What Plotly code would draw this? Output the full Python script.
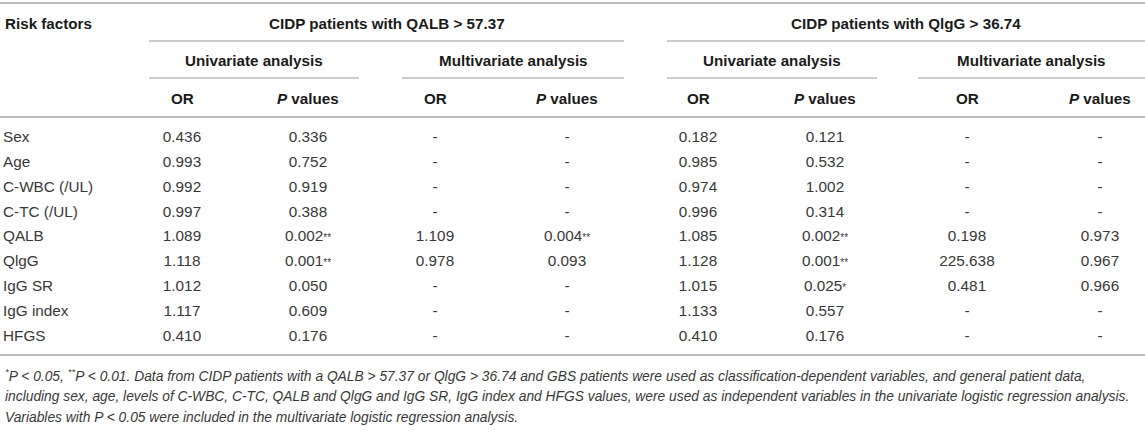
import plotly.graph_objects as go

# table contents
factors = ["Sex", "Age", "C-WBC (/UL)", "C-TC (/UL)", "QALB", "QlgG",
           "IgG SR", "IgG index", "HFGS"]
qalb_uni_or = ["0.436", "0.993", "0.992", "0.997", "1.089", "1.118", "1.012", "1.117", "0.410"]
qalb_uni_p = ["0.336", "0.752", "0.919", "0.388", "0.002**", "0.001**", "0.050", "0.609", "0.176"]
qalb_multi_or = ["-", "-", "-", "-", "1.109", "0.978", "-", "-", "-"]
qalb_multi_p = ["-", "-", "-", "-", "0.004**", "0.093", "-", "-", "-"]
qigg_uni_or = ["0.182", "0.985", "0.974", "0.996", "1.085", "1.128", "1.015", "1.133", "0.410"]
qigg_uni_p = ["0.121", "0.532", "1.002", "0.314", "0.002**", "0.001**", "0.025*", "0.557", "0.176"]
qigg_multi_or = ["-", "-", "-", "-", "0.198", "225.638", "0.481", "-", "-"]
qigg_multi_p = ["-", "-", "-", "-", "0.973", "0.967", "0.966", "-", "-"]

group_titles = ["CIDP patients with QALB &gt; 57.37", "CIDP patients with QlgG &gt; 36.74"]
sub_titles = ["Univariate analysis", "Multivariate analysis"]
col_titles = ["OR", "<i>P</i> values"]

footnote = [
    "<sup>*</sup>P &lt; 0.05, <sup>**</sup>P &lt; 0.01. Data from CIDP patients with a QALB &gt; 57.37 or QlgG &gt; 36.74 "
    "and GBS patients were used as classification-dependent variables, and general patient data,",
    "including sex, age, levels of C-WBC, C-TC, QALB and QlgG and IgG SR, IgG index and HFGS values, "
    "were used as independent variables in the univariate logistic regression analysis.",
    "Variables with P &lt; 0.05 were included in the multivariate logistic regression analysis.",
]

W, H = 1145, 443
FONT = "Liberation Sans, Arial, sans-serif"
TXT = "#383838"
HEAD = "#1a1a1a"
RULE = "#bdbdbd"

col_x = [182, 308, 435, 567, 698, 825, 967, 1100]
columns = [qalb_uni_or, qalb_uni_p, qalb_multi_or, qalb_multi_p,
           qigg_uni_or, qigg_uni_p, qigg_multi_or, qigg_multi_p]
row0, row_h = 138, 24.9
row_y = [row0 + i * row_h for i in range(len(factors))]


def star(s):
    # asterisks are set smaller and raised
    if s.endswith("*"):
        base = s.rstrip("*")
        return base + "<span style='font-size:10px'>" + s[len(base):] + "</span>"
    return s


fig = go.Figure()

body = dict(size=15.3, color=TXT, family=FONT)
fig.add_trace(go.Scatter(
    x=[3] * len(factors), y=row_y, text=factors, mode="text",
    textposition="middle right", textfont=body,
    hoverinfo="skip", showlegend=False,
))
for cx, vals in zip(col_x, columns):
    fig.add_trace(go.Scatter(
        x=[cx] * len(vals), y=row_y, text=[star(v) for v in vals], mode="text",
        textposition="middle center", textfont=body,
        hoverinfo="skip", showlegend=False,
    ))

ann = []
hfont = dict(size=15.2, color=HEAD, family=FONT)
ann.append(dict(x=3, y=23, text="<b>Risk factors</b>", xanchor="left", showarrow=False, font=hfont))

group_spans = [(149, 624), (667, 1145)]
sub_spans = [(149, 359), (402, 624), (667, 877), (918, 1145)]
for (a, b), t in zip(group_spans, group_titles):
    ann.append(dict(x=(a + b) / 2, y=23, text="<b>" + t + "</b>", showarrow=False, font=hfont))
for i, (a, b) in enumerate(sub_spans):
    ann.append(dict(x=(a + b) / 2, y=60, text="<b>" + sub_titles[i % 2] + "</b>", showarrow=False, font=hfont))
for i, cx in enumerate(col_x):
    ann.append(dict(x=cx, y=98, text="<b>" + col_titles[i % 2] + "</b>", showarrow=False, font=hfont))

foot_y = [375, 396, 417]
for fy, t in zip(foot_y, footnote):
    ann.append(dict(x=3, y=fy, text="<i>" + t + "</i>", xanchor="left", showarrow=False,
                    font=dict(size=13.8, color=TXT, family=FONT)))

shapes = []
for y in (3, 117, 355):
    shapes.append(dict(type="line", x0=0, x1=W, y0=y, y1=y, line=dict(color=RULE, width=2)))
for a, b in group_spans:
    shapes.append(dict(type="line", x0=a, x1=b, y0=41, y1=41, line=dict(color=RULE, width=1.5)))
for a, b in sub_spans:
    shapes.append(dict(type="line", x0=a, x1=b, y0=78, y1=78, line=dict(color=RULE, width=1.5)))

fig.update_layout(
    width=W, height=H, autosize=False,
    margin=dict(l=0, r=0, t=0, b=0),
    paper_bgcolor="white", plot_bgcolor="white",
    xaxis=dict(range=[0, W], visible=False, fixedrange=True),
    yaxis=dict(range=[H, 0], visible=False, fixedrange=True),
    annotations=ann, shapes=shapes,
)

fig.write_html("out.html", config={"displayModeBar": False},
               post_script="document.body.style.margin='0';")
